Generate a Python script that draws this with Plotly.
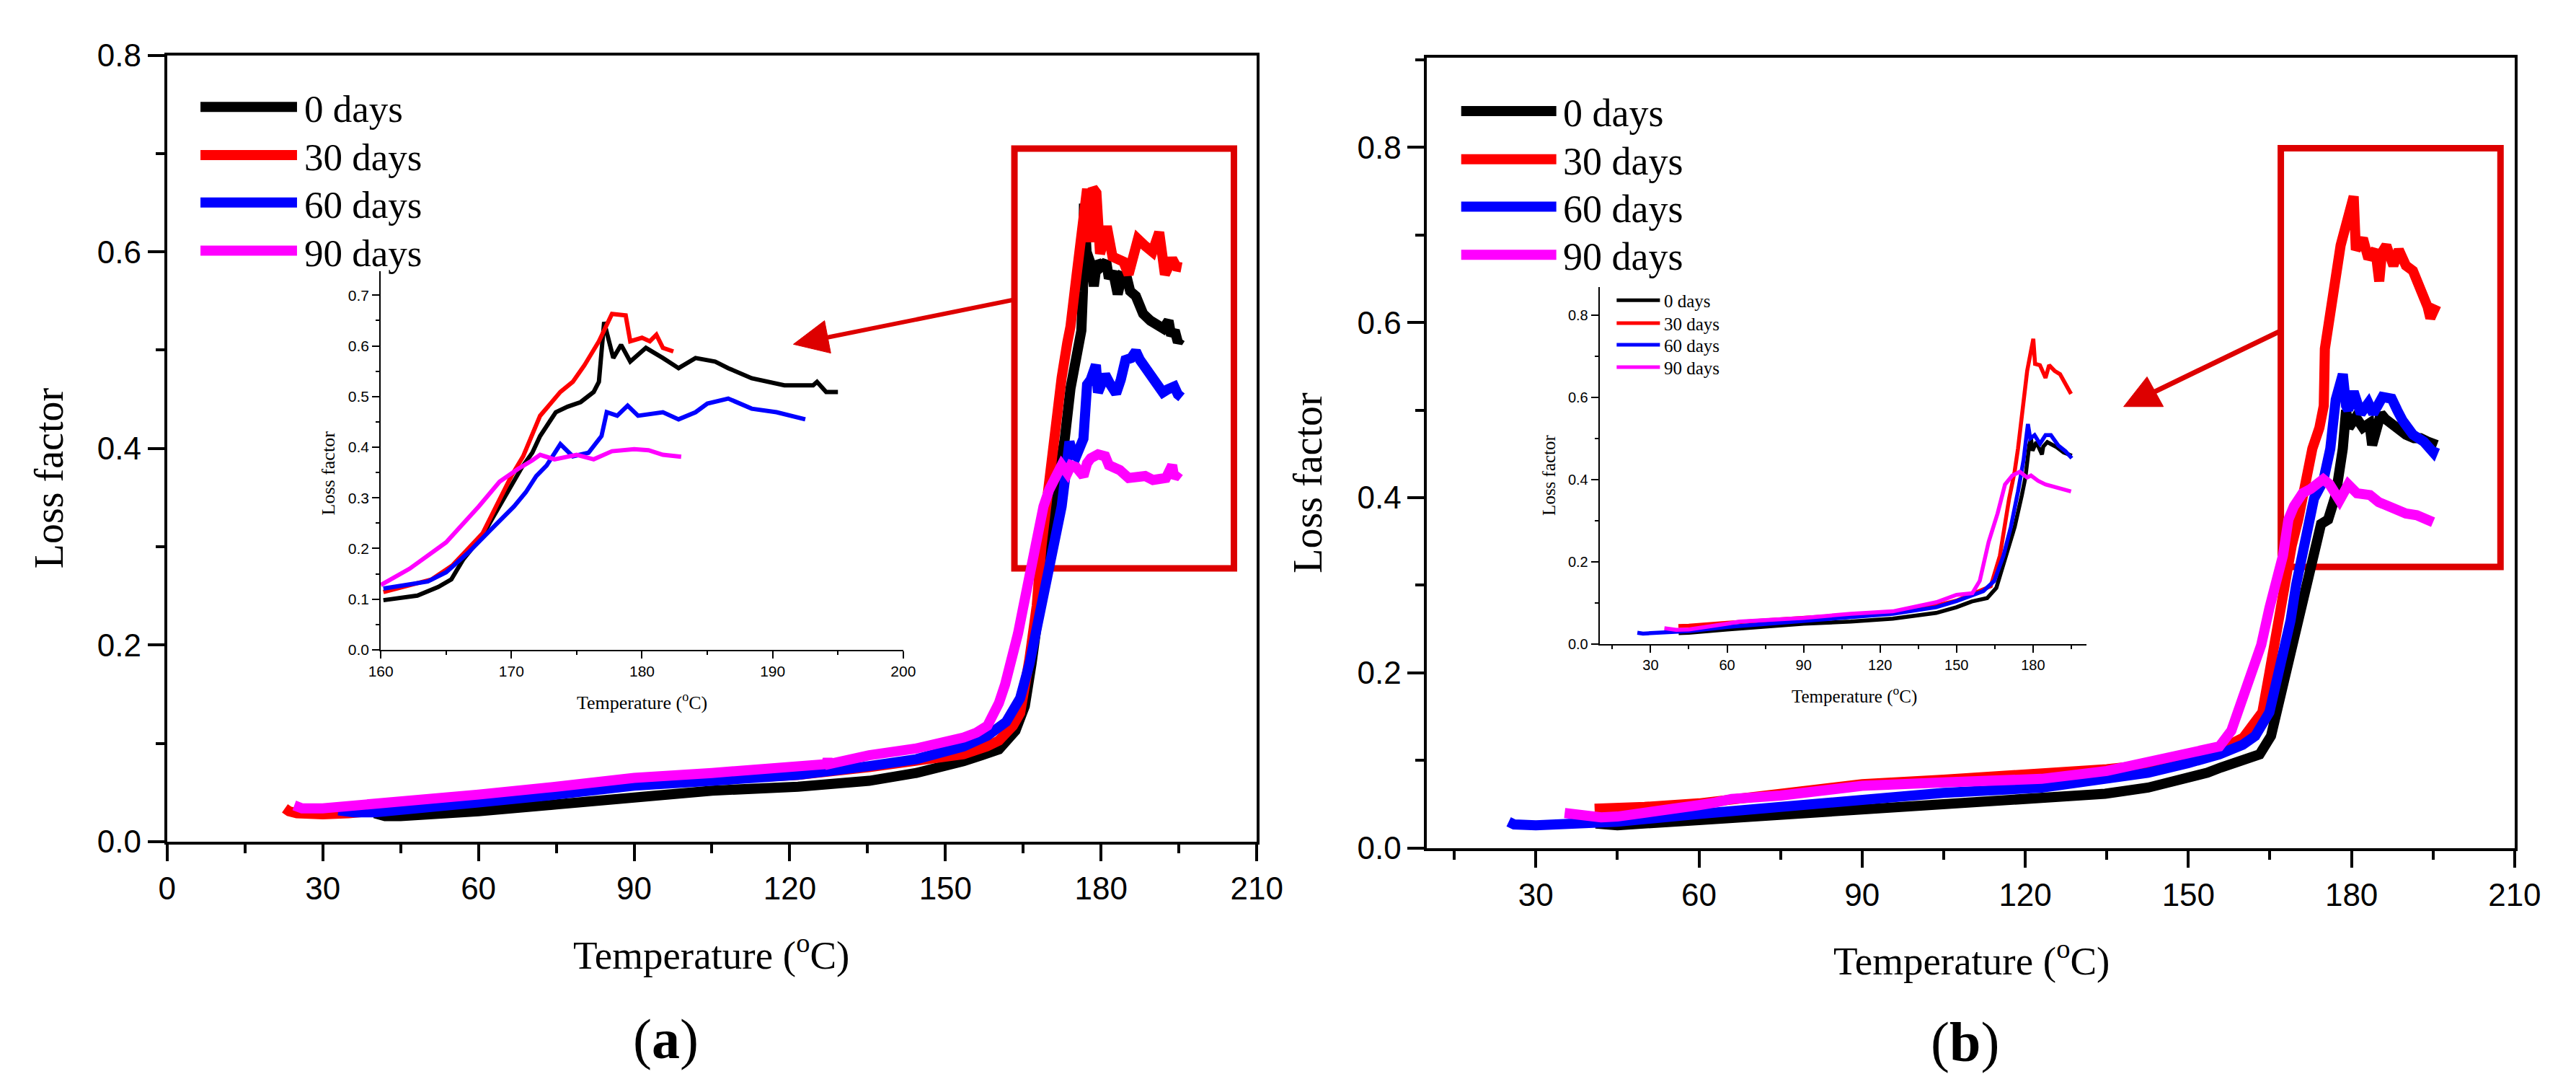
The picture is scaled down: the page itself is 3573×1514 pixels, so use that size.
import plotly.graph_objects as go

W, H = 3573, 1514

names = ["0 days", "30 days", "60 days", "90 days"]
colors = ["#000000", "#ff0000", "#0000ff", "#ff00ff"]
box_red = "#dd0000"

# --- (a) main plot: temperature (°C) vs loss factor ---
a0_temp = [40, 42, 45, 52, 60, 75, 90, 105, 121.6, 135.3, 144.4, 150, 153.5, 157, 160.3, 163.5, 165.3, 166.6, 167.6, 169,
           170.5, 172, 173, 174.1, 175.2, 176.2, 176.5, 176.7, 177.2, 178, 178.6, 179.2, 180, 181, 181.5, 182.3, 183.2,
           184, 185, 185.6, 186.7, 188.1, 189.5, 190.6, 192, 193, 193.5, 194.2, 194.8, 195.3]
a0_loss = [0.029, 0.026, 0.026, 0.028, 0.031, 0.038, 0.046, 0.052, 0.056, 0.062, 0.070, 0.076, 0.082, 0.088, 0.094, 0.113,
           0.138, 0.181, 0.228, 0.275, 0.33, 0.375, 0.41, 0.461, 0.486, 0.52, 0.56, 0.649, 0.60, 0.588, 0.565, 0.59, 0.585,
           0.59, 0.573, 0.58, 0.557, 0.575, 0.573, 0.56, 0.555, 0.537, 0.530, 0.526, 0.522, 0.530, 0.515, 0.52, 0.508, 0.512]

a30_temp = [22.7, 23.5, 25, 27, 30, 35, 40, 45, 60, 75, 90, 105, 121.6, 135.3, 144.4, 153.5, 158, 160.3, 163, 164.4, 166.2,
            167.6, 168.5, 169.5, 170.3, 171.7, 172.4, 173.5, 174.1, 175.2, 176.2, 177.3, 177.8, 178.4, 179.1, 179.8, 180.4,
            181.1, 182.2, 183.2, 184.3, 185.3, 186, 187.1, 188.5, 189.9, 191.2, 191.8, 192.3, 193.7, 194.5, 195.5]
a30_loss = [0.034, 0.031, 0.029, 0.028, 0.028, 0.029, 0.031, 0.033, 0.041, 0.049, 0.058, 0.063, 0.068, 0.076, 0.082, 0.089,
            0.097, 0.103, 0.118, 0.131, 0.186, 0.24, 0.30, 0.35, 0.389, 0.436, 0.472, 0.508, 0.524, 0.573, 0.617, 0.664,
            0.61, 0.665, 0.66, 0.598, 0.61, 0.626, 0.595, 0.592, 0.590, 0.577, 0.595, 0.613, 0.606, 0.600, 0.620, 0.60,
            0.577, 0.593, 0.585, 0.584]

a60_temp = [33, 36, 40, 45, 60, 75, 90, 105, 121.6, 135.3, 144.4, 153.5, 158.1, 161.7, 164.4, 166.2, 167.6, 169, 170.3,
            171.4, 172.4, 173.3, 173.9, 174.5, 175.2, 176.6, 177.0, 177.3, 178, 179, 179.4, 180.2, 180.8, 181.8, 182.9,
            183.8, 184.7, 185.8, 186.7, 187.5, 188.5, 190.3, 191.9, 192.8, 194.1, 194.8, 195.5]
a60_loss = [0.032, 0.030, 0.030, 0.032, 0.040, 0.048, 0.057, 0.062, 0.068, 0.077, 0.084, 0.097, 0.108, 0.122, 0.146, 0.181,
            0.217, 0.255, 0.285, 0.305, 0.341, 0.38, 0.407, 0.395, 0.392, 0.41, 0.44, 0.465, 0.47, 0.485, 0.457, 0.47,
            0.475, 0.465, 0.456, 0.47, 0.49, 0.492, 0.499, 0.49, 0.483, 0.472, 0.457, 0.46, 0.463, 0.455, 0.452]

a90_temp = [24.5, 26, 30, 40, 45, 60, 75, 90, 105, 121.6, 127, 127.3, 127.6, 135.3, 144.4, 153.5, 156, 158.1, 159.3, 160.3,
            161.5, 162.6, 164, 164.9, 165.8, 167.6, 168.9, 170, 171, 172.4, 173.5, 174.2, 175.2, 176.6, 177.3, 178, 179.4,
            180.8, 181.5, 183.6, 185.3, 187, 188.5, 190, 191, 192.5, 193.7, 194.1, 195]
a90_loss = [0.037, 0.034, 0.034, 0.038, 0.041, 0.048, 0.056, 0.065, 0.070, 0.077, 0.079, 0.084, 0.079, 0.088, 0.095, 0.106,
            0.111, 0.118, 0.128, 0.141, 0.160, 0.180, 0.212, 0.236, 0.262, 0.309, 0.341, 0.358, 0.370, 0.383, 0.375, 0.383,
            0.381, 0.372, 0.385, 0.390, 0.394, 0.392, 0.383, 0.378, 0.370, 0.372, 0.372, 0.368, 0.369, 0.370, 0.383,
            0.370, 0.376]

# --- (a) inset, 160-200 °C ---
ai0_temp = [160.2, 162.8, 164.4, 165.4, 166.3, 167.8, 168.6, 169.7, 170.8, 171.6, 172.2, 173.4, 174.3, 175.3, 176.3, 176.7,
            177.1, 177.8, 178.4, 179.1, 180.3, 181.6, 182.8, 184.1, 185.6, 186.6, 188.4, 190.9, 193.1, 193.4, 194.1, 195]
ai0_loss = [0.098, 0.107, 0.124, 0.139, 0.178, 0.226, 0.262, 0.311, 0.360, 0.389, 0.422, 0.469, 0.480, 0.489, 0.509, 0.529,
            0.647, 0.576, 0.602, 0.569, 0.596, 0.576, 0.556, 0.576, 0.569, 0.556, 0.536, 0.522, 0.522, 0.529, 0.509, 0.509]

ai30_temp = [160.2, 163.9, 165.5, 167.8, 169.1, 170, 170.9, 172.2, 173.75, 174.7, 175.6, 176.7, 177.7, 178.75, 179.1, 180,
             180.6, 181.1, 181.6, 182.4]
ai30_loss = [0.114, 0.139, 0.167, 0.230, 0.297, 0.343, 0.382, 0.462, 0.509, 0.529, 0.562, 0.609, 0.663, 0.660, 0.609,
             0.616, 0.609, 0.622, 0.596, 0.589]

ai60_temp = [160.2, 163.6, 165, 166.7, 168.3, 169.4, 170.2, 171.1, 171.9, 172.7, 173.75, 174.7, 175.9, 176.9, 177.3, 178.1,
             178.9, 179.7, 181.6, 182.8, 184.1, 185, 186.6, 188.4, 190.3, 192.5]
ai60_loss = [0.121, 0.135, 0.153, 0.192, 0.234, 0.262, 0.283, 0.311, 0.343, 0.364, 0.406, 0.382, 0.389, 0.422, 0.469,
             0.462, 0.482, 0.462, 0.469, 0.455, 0.469, 0.486, 0.496, 0.476, 0.469, 0.455]

ai90_temp = [160.0, 162.2, 165, 167.5, 169.1, 170.5, 171.6, 172.2, 173.3, 175, 176.3, 177.7, 179.4, 180.5, 181.6, 183]
ai90_loss = [0.128, 0.160, 0.212, 0.283, 0.332, 0.357, 0.374, 0.385, 0.376, 0.385, 0.376, 0.392, 0.396, 0.394, 0.385,
             0.381]

# --- (b) main plot ---
b0_temp = [41, 45, 60, 75, 90, 105, 120, 134.7, 142.6, 150, 153.5, 156, 158, 160.1, 163.1, 165.2, 167, 168.4, 169.3, 170.7,
           172.7, 174.4, 175.7, 177.1, 178.4, 179, 179.5, 180.8, 182.1, 183.3, 183.8, 184.5, 185.4, 186.2, 187.4, 188.8,
           190, 191.5, 192.7, 194, 195.7]
b0_loss = [0.028, 0.026, 0.032, 0.038, 0.044, 0.049, 0.054, 0.062, 0.069, 0.080, 0.086, 0.092, 0.097, 0.100, 0.107, 0.128,
           0.174, 0.215, 0.240, 0.272, 0.330, 0.370, 0.375, 0.403, 0.456, 0.500, 0.480, 0.492, 0.480, 0.485, 0.460, 0.480,
           0.496, 0.490, 0.484, 0.476, 0.472, 0.468, 0.468, 0.464, 0.460]

b30_temp = [40.8, 45, 50, 60, 75, 90, 105, 123, 135, 142.6, 150, 155, 160.1, 163.6, 164.9, 166.6, 167.9, 169, 170.2, 171.4,
            172.8, 174.1, 174.9, 175.1, 176.4, 178, 180.4, 180.8, 181.5, 182.1, 183.1, 184.4, 185.1, 185.6, 186.4, 187.7,
            188.7, 190, 191.3, 192.7, 194, 194.5, 195, 195.6]
b30_loss = [0.045, 0.045, 0.047, 0.051, 0.062, 0.073, 0.078, 0.084, 0.090, 0.095, 0.103, 0.110, 0.126, 0.155, 0.200, 0.266,
            0.320, 0.345, 0.375, 0.411, 0.456, 0.480, 0.505, 0.570, 0.626, 0.688, 0.744, 0.683, 0.690, 0.696, 0.673, 0.683,
            0.647, 0.680, 0.688, 0.665, 0.683, 0.665, 0.659, 0.639, 0.618, 0.605, 0.614, 0.620]

b60_temp = [25, 26, 30, 45, 60, 75, 90, 105, 123, 142.6, 150, 155.7, 160, 162.3, 164.9, 166.6, 168.8, 169.8, 171.4, 173.1,
            174.8, 176.1, 177.1, 178.4, 179.0, 179.4, 180.4, 181.7, 183.1, 184, 185.7, 187.4, 188.4, 189.4, 191.3, 193.3,
            195, 195.4]
b60_loss = [0.030, 0.027, 0.026, 0.030, 0.039, 0.047, 0.055, 0.063, 0.069, 0.086, 0.097, 0.107, 0.118, 0.128, 0.155, 0.200,
            0.260, 0.300, 0.342, 0.399, 0.419, 0.456, 0.512, 0.541, 0.505, 0.500, 0.521, 0.496, 0.508, 0.496, 0.515, 0.513,
            0.500, 0.488, 0.472, 0.464, 0.452, 0.458]

b90_temp = [35.3, 38, 42, 45, 55, 60, 63, 66, 75, 90, 105, 123, 135, 142.6, 150, 155.7, 157.9, 160.1, 162.3, 163.4, 164.9,
            166.6, 167.4, 168.4, 169.4, 171, 172.5, 174.8, 176, 177.8, 179.4, 181, 183.4, 185, 186.8, 188, 190, 192,
            193.5, 195]
b90_loss = [0.040, 0.037, 0.035, 0.036, 0.043, 0.049, 0.052, 0.056, 0.060, 0.071, 0.075, 0.079, 0.088, 0.098, 0.108, 0.116,
            0.134, 0.171, 0.213, 0.232, 0.274, 0.320, 0.334, 0.375, 0.390, 0.405, 0.410, 0.421, 0.415, 0.397, 0.415, 0.405,
            0.403, 0.395, 0.390, 0.388, 0.382, 0.380, 0.376, 0.372]

# --- (b) inset, full range ---
bi0_temp = [41, 45, 60, 90, 108.5, 125, 142, 150, 156, 162, 165.6, 169.2, 172.8, 175.6, 177, 178.5, 179.2, 179.8, 181.3,
            183.5, 184, 185.6, 189.2, 192, 195.2]
bi0_loss = [0.027, 0.028, 0.036, 0.050, 0.055, 0.062, 0.076, 0.090, 0.104, 0.112, 0.137, 0.215, 0.285, 0.362, 0.405, 0.483,
            0.500, 0.470, 0.491, 0.461, 0.480, 0.491, 0.479, 0.466, 0.458]

bi30_temp = [40.9, 45, 60, 90, 108.5, 125, 142, 150, 163.4, 167, 170.6, 172.8, 174.1, 175.6, 177.7, 180.1, 180.8, 182.7,
             184.9, 186.3, 188.5, 190.6, 192.7, 194.9]
bi30_loss = [0.044, 0.045, 0.052, 0.064, 0.072, 0.078, 0.094, 0.106, 0.141, 0.215, 0.353, 0.420, 0.475, 0.561, 0.664,
             0.742, 0.681, 0.678, 0.647, 0.678, 0.664, 0.656, 0.630, 0.608]

bi60_temp = [24.8, 27, 30, 45, 60, 90, 108.5, 125, 142, 150, 160.5, 164.8, 168.4, 171.3, 174.1, 176.3, 177.3, 178, 178.9,
             180.6, 182.7, 184.9, 187, 189.9, 192.7, 195.2]
bi60_loss = [0.028, 0.026, 0.027, 0.032, 0.042, 0.057, 0.066, 0.074, 0.090, 0.105, 0.129, 0.154, 0.215, 0.285, 0.371,
             0.448, 0.500, 0.535, 0.500, 0.508, 0.487, 0.508, 0.508, 0.483, 0.469, 0.452]

bi90_temp = [35.4, 40, 45, 55, 60, 65, 90, 108.5, 125, 142, 150, 156.2, 159.1, 162.6, 166.1, 169, 171.9, 174.8, 177.7,
             179.2, 182, 184.9, 189.2, 194.9]
bi90_loss = [0.039, 0.035, 0.036, 0.044, 0.050, 0.055, 0.064, 0.074, 0.080, 0.102, 0.120, 0.124, 0.154, 0.249, 0.318,
             0.388, 0.410, 0.419, 0.405, 0.410, 0.397, 0.388, 0.380, 0.371]

SANS = "Liberation Sans, Arial, sans-serif"
SERIF = "Liberation Serif, Times New Roman, serif"


def px(x):
    return x / W


def py(y):
    return 1 - y / H


panels = [
    ("x", "y", [(a0_temp, a0_loss), (a30_temp, a30_loss), (a60_temp, a60_loss), (a90_temp, a90_loss)], 14),
    ("x2", "y2", [(ai0_temp, ai0_loss), (ai30_temp, ai30_loss), (ai60_temp, ai60_loss), (ai90_temp, ai90_loss)], 6),
    ("x3", "y3", [(b0_temp, b0_loss), (b30_temp, b30_loss), (b60_temp, b60_loss), (b90_temp, b90_loss)], 14),
    ("x4", "y4", [(bi0_temp, bi0_loss), (bi30_temp, bi30_loss), (bi60_temp, bi60_loss), (bi90_temp, bi90_loss)], 5.5),
]

fig = go.Figure()
for xa, ya, series, lw in panels:
    for (t, l), name, c in zip(series, names, colors):
        fig.add_trace(go.Scatter(x=t, y=l, mode="lines", name=name, xaxis=xa, yaxis=ya,
                                 line=dict(color=c, width=lw), showlegend=False, hoverinfo="skip"))


def main_axis(domain, rng, dtick, minor, anchor, fmt=None):
    d = dict(domain=domain, range=rng, anchor=anchor, showline=True, linecolor="black", linewidth=4, mirror=True,
             ticks="outside", ticklen=23, tickwidth=4, tickcolor="black", dtick=dtick, tick0=0,
             minor=dict(dtick=minor, tick0=0, ticks="outside", ticklen=12, tickwidth=4, tickcolor="black"),
             showgrid=False, zeroline=False, tickfont=dict(family=SANS, size=44, color="black"))
    if fmt:
        d["tickformat"] = fmt
    return d


def inset_axis(domain, rng, dtick, minor, anchor, size, fmt=None):
    d = dict(domain=domain, range=rng, anchor=anchor, showline=True, linecolor="black", linewidth=2, mirror=False,
             ticks="outside", ticklen=10, tickwidth=2, tickcolor="black", dtick=dtick, tick0=0,
             minor=dict(dtick=minor, tick0=0, ticks="outside", ticklen=5, tickwidth=2, tickcolor="black"),
             showgrid=False, zeroline=False, tickfont=dict(family=SANS, size=size, color="black"))
    if fmt:
        d["tickformat"] = fmt
    return d


fig.update_layout(
    width=W, height=H, margin=dict(l=0, r=0, t=0, b=0),
    paper_bgcolor="white", plot_bgcolor="rgba(0,0,0,0)",
    xaxis=main_axis([px(209), px(1744)], [0, 210], 30, 15, "y"),
    yaxis=main_axis([py(1172), py(45)], [0, 0.8], 0.2, 0.1, "x", ".1f"),
    xaxis2=inset_axis([px(510), px(1246)], [160, 200], 10, 5, "y2", 21),
    yaxis2=inset_axis([py(897), py(354)], [0, 0.748], 0.1, 0.05, "x2", 21, ".1f"),
    xaxis3=main_axis([px(1984), px(3516)], [10, 210], 30, 15, "y3"),
    yaxis3=main_axis([py(1181), py(49)], [0, 0.902], 0.2, 0.1, "x3", ".1f"),
    xaxis4=inset_axis([px(2227), px(2913)], [10, 201], 30, 15, "y4", 20),
    yaxis4=inset_axis([py(889), py(377)], [0, 0.868], 0.2, 0.1, "x4", 20, ".1f"),
)

shapes = []
# highlighted regions and arrows pointing to the insets
shapes.append(dict(type="rect", xref="x", yref="y", x0=163.3, x1=205.6, y0=0.278, y1=0.705,
                   line=dict(color=box_red, width=9), layer="below"))
shapes.append(dict(type="line", xref="x", yref="y", x0=162.9, y0=0.551, x1=127.3, y1=0.513,
                   line=dict(color=box_red, width=6)))
shapes.append(dict(type="path", xref="x", yref="y", path="M 120.7,0.506 L 126.7,0.530 L 127.9,0.497 Z",
                   fillcolor=box_red, line=dict(color=box_red, width=1)))
shapes.append(dict(type="rect", xref="x3", yref="y3", x0=167.0, x1=207.4, y0=0.321, y1=0.799,
                   line=dict(color=box_red, width=9), layer="below"))
shapes.append(dict(type="line", xref="x3", yref="y3", x0=166.8, y0=0.590, x1=143.8, y1=0.521,
                   line=dict(color=box_red, width=7)))
shapes.append(dict(type="path", xref="x3", yref="y3", path="M 138.1,0.504 L 142.4,0.538 L 145.4,0.504 Z",
                   fillcolor=box_red, line=dict(color=box_red, width=1)))

annotations = []


def add_legend(x0, x1, rows, text_x, size, lw):
    for name, c, r in zip(names, colors, rows):
        shapes.append(dict(type="line", xref="paper", yref="paper", x0=px(x0), x1=px(x1), y0=py(r), y1=py(r),
                           line=dict(color=c, width=lw)))
        annotations.append(dict(xref="paper", yref="paper", x=px(text_x), y=py(r + size * 0.06), text=name,
                                showarrow=False, xanchor="left", yanchor="middle",
                                font=dict(family=SERIF, size=size, color="black")))


add_legend(256, 392, [119, 188, 256, 325], 400, 53, 14)
add_legend(2032, 2166, [125, 194, 262, 331], 2173, 54, 14)
add_legend(2251, 2312, [396, 429, 460, 492], 2316, 25, 5)


def label(text, x, y, size, angle=0, family=SERIF):
    annotations.append(dict(xref="paper", yref="paper", x=px(x), y=py(y), text=text, showarrow=False,
                            xanchor="center", yanchor="middle", textangle=angle,
                            font=dict(family=family, size=size, color="black")))


temp_title = "Temperature (<sup>o</sup>C)"
label(temp_title, 976, 1331, 55)
label("Loss factor", 43, 651, 56, -90)
label(temp_title, 2751, 1339, 55)
label("Loss factor", 1816, 658, 56, -90)
label(temp_title, 878, 971, 26)
label("Loss factor", 436, 644, 26, -90)
label(temp_title, 2586, 962, 25)
label("Loss factor", 2155, 647, 25, -90)
label("(<b>a</b>)", 912, 1455, 78)
label("(<b>b</b>)", 2742, 1459, 78)

fig.update_layout(shapes=shapes, annotations=annotations)
fig.write_html("out.html")
